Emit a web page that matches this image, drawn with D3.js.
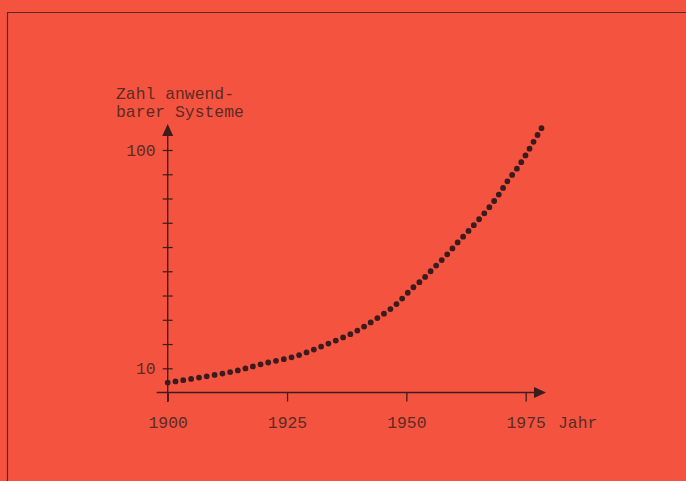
<!DOCTYPE html>
<html>
<head>
<meta charset="utf-8">
<script src="https://cdn.jsdelivr.net/npm/d3@7"></script>
<style>
  html, body { margin: 0; padding: 0; background: #f4553f; }
  svg { display: block; }
</style>
</head>
<body>
<div class="container"></div>
<script>
// values
const years = [1900, 1907, 1914, 1920, 1927, 1933, 1939, 1943.4, 1947.6, 1951.1, 1953.6, 1956,
  1958.3, 1960.6, 1962.9, 1965.1, 1967.3, 1969.3, 1971.2, 1973.2, 1975, 1976.8, 1978.5];
const systems = [8.6, 9.1, 9.7, 10.5, 11.4, 12.8, 14.6, 16.7, 19.4, 23.1, 25.8, 29.2,
  32.8, 37.4, 42.3, 47.8, 54.4, 62.2, 72.1, 82.4, 94.8, 110.5, 128];
const xTickYears = [1900, 1925, 1950, 1975];
const yTickLabels = [10, 100];
const yTitleLines = ['Zahl anwend-', 'barer Systeme'];
const xTitle = 'Jahr';

const drawChart = () => {
  const width = 686;
  const height = 481;
  const ink = '#3b1d1d';
  const textInk = '#5e2a25';
  const font = "'Liberation Mono', 'Courier New', monospace";
  const fontSize = '16.4px';

  const data = years.map((y, i) => ({ year: y, value: systems[i] }));

  const svg = d3
    .select('.container')
    .append('svg')
    .attr('width', width)
    .attr('height', height);

  svg.append('rect').attr('width', width).attr('height', height).attr('fill', '#f4543f');

  // frame
  svg
    .append('path')
    .attr('d', `M7.5,${height} L7.5,12.5 L${width},12.5`)
    .attr('fill', 'none')
    .attr('stroke', '#5a2a2a')
    .attr('stroke-width', 1.2);

  const xScale = d3.scaleLinear().domain([1900, 1975]).range([167.7, 525.7]);
  const yScale = d3.scaleLog().domain([10, 100]).range([368.3, 150]);

  const x0 = xScale(1900);
  const y0 = 392.5;

  // x axis
  const xAxis = d3
    .axisBottom(xScale)
    .tickValues(xTickYears)
    .tickSizeInner(9)
    .tickSizeOuter(0)
    .tickPadding(15)
    .tickFormat(d3.format('d'));

  const gx = svg
    .append('g')
    .attr('transform', `translate(0,${y0})`)
    .call(xAxis);
  gx.select('.domain').remove();
  gx.selectAll('line').attr('stroke', ink).attr('stroke-width', 1.3);
  gx.selectAll('text')
    .attr('fill', textInk)
    .style('font-family', font)
    .style('font-size', fontSize);

  svg
    .append('line')
    .attr('x1', x0 - 11)
    .attr('x2', 536)
    .attr('y1', y0)
    .attr('y2', y0)
    .attr('stroke', ink)
    .attr('stroke-width', 1.4);
  svg
    .append('path')
    .attr('d', `M546,${y0} L534,${y0 - 5.5} L534,${y0 + 5.5} Z`)
    .attr('fill', ink);

  svg
    .append('text')
    .attr('x', 558)
    .attr('y', 428)
    .attr('fill', textInk)
    .style('font-family', font)
    .style('font-size', fontSize)
    .text(xTitle);

  // y axis, minor ticks evenly spread between 10 and 100
  const yTicks = d3.range(10).map((i) => Math.pow(10, 1 + i / 9));
  const yAxis = d3
    .axisLeft(yScale)
    .tickValues(yTicks)
    .tickSizeInner(5)
    .tickSizeOuter(0)
    .tickPadding(7)
    .tickFormat((d) => {
      const hit = yTickLabels.find((v) => Math.abs(v - d) < 1e-6);
      return hit ? String(hit) : '';
    });

  const gy = svg
    .append('g')
    .attr('transform', `translate(${x0},0)`)
    .call(yAxis);
  gy.select('.domain').remove();
  gy.selectAll('line')
    .attr('x1', 5)
    .attr('stroke', ink)
    .attr('stroke-width', 1.2);
  gy.selectAll('text')
    .attr('fill', textInk)
    .style('font-family', font)
    .style('font-size', fontSize);

  svg
    .append('line')
    .attr('x1', x0)
    .attr('x2', x0)
    .attr('y1', 402)
    .attr('y2', 134)
    .attr('stroke', ink)
    .attr('stroke-width', 1.4);
  svg
    .append('path')
    .attr('d', `M${x0},124 L${x0 - 5.5},136 L${x0 + 5.5},136 Z`)
    .attr('fill', ink);

  svg
    .append('g')
    .selectAll('text')
    .data(yTitleLines)
    .enter()
    .append('text')
    .attr('x', 116)
    .attr('y', (d, i) => 99 + i * 17.5)
    .attr('fill', textInk)
    .style('font-family', font)
    .style('font-size', fontSize)
    .text((d) => d);

  // dotted growth curve
  const line = d3
    .line()
    .x((d) => xScale(d.year))
    .y((d) => yScale(d.value))
    .curve(d3.curveCatmullRom);

  svg
    .append('path')
    .datum(data)
    .attr('d', line)
    .attr('fill', 'none')
    .attr('stroke', '#3a1c1e')
    .attr('stroke-width', 5.8)
    .attr('stroke-linecap', 'round')
    .attr('stroke-dasharray', '0 7.9');
};

drawChart();
</script>
</body>
</html>
